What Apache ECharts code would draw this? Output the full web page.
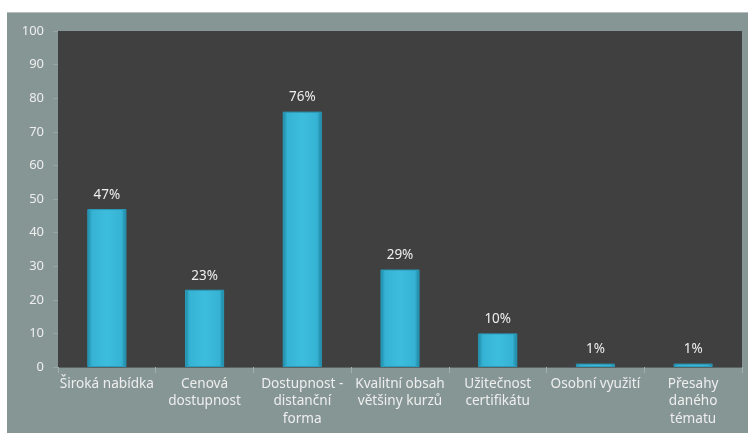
<!DOCTYPE html>
<html>
<head>
<meta charset="utf-8">
<script src="https://cdn.jsdelivr.net/npm/echarts@6/dist/echarts.min.js"></script>
<style>
  html, body { margin: 0; padding: 0; background: #ffffff; }
  #box { position: absolute; left: 7px; top: 12px; width: 741px; height: 421px;
         background: #869694; border-top: 1px solid #b8bebe; }
  #chart { width: 741px; height: 421px; }
</style>
</head>
<body>
<div id="box"><div id="chart"></div></div>
<script>
var categories = ['Široká nabídka', 'Cenová\ndostupnost', 'Dostupnost -\ndistanční\nforma',
	'Kvalitní obsah\nvětšiny kurzů', 'Užitečnost\ncertifikátu', 'Osobní využití', 'Přesahy\ndaného\ntématu'];
var values = [47, 23, 76, 29, 10, 1, 1];
var yTicks = [0, 10, 20, 30, 40, 50, 60, 70, 80, 90, 100];

var chart = echarts.init(document.getElementById('chart'));

var option = {
	animation: false,
	textStyle: { fontFamily: 'Noto Sans' },
	grid: { left: 51, right: 6, top: 18, bottom: 67, backgroundColor: '#404040', show: true, borderWidth: 0 },
	xAxis: {
		type: 'category',
		data: categories,
		axisLine: { show: true, lineStyle: { color: '#5a6464', width: 1 } },
		axisTick: { show: true, length: 6, lineStyle: { color: '#a3b0b0' } },
		axisLabel: { color: '#eeeeee', fontSize: 13.6, lineHeight: 17.5, margin: 8, interval: 0 }
	},
	yAxis: {
		type: 'value',
		min: 0,
		max: 100,
		interval: 10,
		splitLine: { show: false },
		axisLine: { show: false },
		axisTick: { show: true, length: 5, lineStyle: { color: '#9aa6a6' } },
		axisLabel: {
			color: '#eeeeee', fontSize: 13, margin: 14,
			formatter: function (v) { return yTicks.indexOf(v) >= 0 ? String(v) : ''; }
		}
	},
	series: [{
		type: 'bar',
		data: values,
		barWidth: '40%',
		itemStyle: {
			color: new echarts.graphic.LinearGradient(0, 0, 1, 0, [
				{ offset: 0, color: '#1d86a3' },
				{ offset: 0.12, color: '#36b3d4' },
				{ offset: 0.5, color: '#3dbddd' },
				{ offset: 0.88, color: '#36b3d4' },
				{ offset: 1, color: '#1a7f9b' }
			]),
			borderColor: '#2a9bbb',
			borderWidth: 1
		},
		label: {
			show: true,
			position: 'top',
			distance: 7,
			color: '#eeeeee',
			fontSize: 13.5,
			formatter: '{c}%'
		}
	}]
};

chart.setOption(option);
</script>
</body>
</html>
